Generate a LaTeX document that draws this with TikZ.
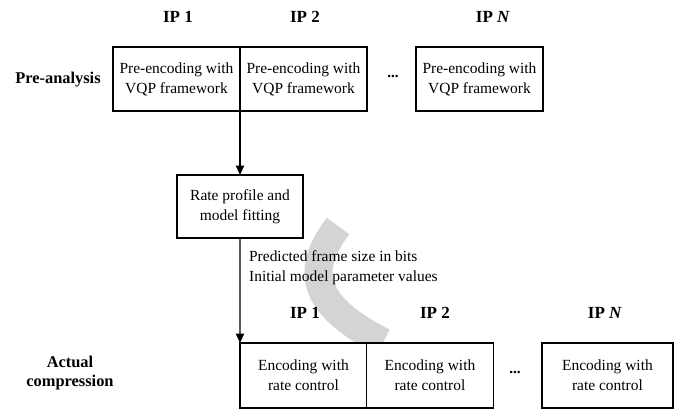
\documentclass[tikz,border=0pt]{standalone}
\usepackage{fontspec}
\setmainfont{Liberation Serif}
\usetikzlibrary{arrows.meta}

\begin{document}
\begin{tikzpicture}[scale=1.0000]
	\tikzstyle{every node}=[scale=1.0000]
	\tikzstyle{box}=[draw, line width=1.0000pt, fill=white, outer sep=0pt, inner sep=0pt, minimum width=3.8100cm, minimum height=1.9200cm, align=center, font=\fontsize{13.2}{17}\selectfont]
	\tikzstyle{iplabel}=[font=\fontsize{14.5}{17}\selectfont\bfseries]
	\tikzstyle{sidelabel}=[align=center, font=\fontsize{14}{16.5}\selectfont\bfseries]
	\tikzstyle{flow}=[line width=1.0000pt, -{Triangle[width=7pt,length=8pt]}]

	\useasboundingbox (0.0000,0.0000) rectangle (20.3100,12.2700);

	%%watermark
	\draw [line width=0.8400cm, black!17] (10.1400,5.4900) .. controls (9.1500,4.1700) and (9.3000,3.1200) .. (11.5000,2.0100);

	%%pre-analysis
	\node [iplabel] (ipa) at (5.3400,11.7600) {IP 1};
	\node [iplabel] (ipb) at (9.1500,11.7600) {IP 2};
	\node [iplabel] (ipn) at (14.7900,11.7600) {IP \textit{N}};
	\node [sidelabel] (pre) at (1.7400,9.8700) {Pre-analysis};
	\node [box] (prea) at (5.2950,9.9000) {Pre-encoding with\\VQP framework};
	\node [box] (preb) at (9.1050,9.9000) {Pre-encoding with\\VQP framework};
	\node [box] (pren) at (14.3850,9.9000) {Pre-encoding with\\VQP framework};
	\node [font=\fontsize{13}{15}\selectfont\bfseries] (dotsa) at (11.7900,9.9900) {...};

	%%model fitting
	\node [box, minimum width=3.7800cm, minimum height=1.8900cm] (rate) at (7.2000,6.0750) {Rate profile and\\model fitting};
	\node [anchor=west, align=left, font=\fontsize{13.2}{17}\selectfont] (pred) at (7.3500,4.2300) {Predicted frame size in bits\\Initial model parameter values};

	%%actual compression
	\node [iplabel] (ipc) at (9.1500,2.8800) {IP 1};
	\node [iplabel] (ipd) at (13.0500,2.8800) {IP 2};
	\node [iplabel] (ipm) at (18.1500,2.8800) {IP \textit{N}};
	\node [sidelabel] (act) at (2.1000,1.0800) {Actual\\compression};
	\node [box, minimum height=1.9500cm] (enca) at (9.1050,1.0050) {Encoding with\\rate control};
	\node [box, minimum height=1.9500cm] (encb) at (12.9000,1.0050) {Encoding with\\rate control};
	\node [box, minimum height=1.9500cm, minimum width=3.9300cm] (encn) at (18.2250,1.0050) {Encoding with\\rate control};
	\node [font=\fontsize{13}{15}\selectfont\bfseries] (dotsb) at (15.4500,1.1100) {...};

	\draw [flow] (prea.south east) -- (rate.north);
	\draw [flow] (rate.south) -- (enca.north west);

\end{tikzpicture}
\end{document}
